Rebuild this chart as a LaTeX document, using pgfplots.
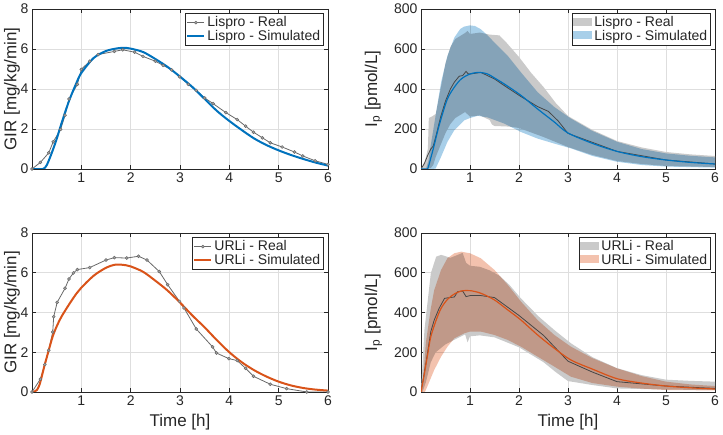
\documentclass[border=0pt]{standalone}
\usepackage{fontspec}
\setmainfont{Liberation Sans}
\usepackage{pgfplots}
\pgfplotsset{compat=1.18}
\definecolor{mblue}{RGB}{0,114,189}
\definecolor{morange}{RGB}{217,83,25}
\definecolor{axc}{RGB}{38,38,38}
\definecolor{realline}{RGB}{105,105,105}
\definecolor{realmean}{RGB}{70,70,70}
\definecolor{bandgray}{RGB}{202,202,202}
\definecolor{bandblue}{RGB}{168,207,233}
\definecolor{bandorange}{RGB}{243,194,174}
\pgfplotsset{
  mystyle/.style={
    scale only axis, width=296pt, height=160pt,
    xmin=0, xmax=6, xtick={1,2,3,4,5,6},
    grid=major, major grid style={draw=black!13, line width=0.5pt},
    axis line style={draw=axc, line width=0.7pt},
    tick style={draw=axc, line width=0.6pt}, tick align=inside, major tick length=4pt,
    tick label style={font=\fontsize{14}{16}\selectfont, text=axc},
    label style={font=\fontsize{17}{19}\selectfont, text=axc},
    xlabel style={at={(axis description cs:0.5,-0.19)}, anchor=center},
    /pgf/number format/assume math mode=true,
    legend style={font=\fontsize{14}{15}\selectfont, draw=axc, line width=0.7pt,
      at={(0.985,0.972)}, anchor=north east, inner sep=1pt, row sep=-2pt, text=axc},
    legend cell align=left,
  },
  girstyle/.style={mystyle, ymin=0, ymax=8, ytick={0,2,4,6,8}, ylabel={GIR [mg/kg/min]},
    ylabel style={at={(axis description cs:-0.068,0.5)}, anchor=center, rotate=0}},
  ipstyle/.style={mystyle, ymin=0, ymax=800, ytick={0,200,400,600,800}, ylabel={I\textsubscript{p} [pmol/L]},
    ylabel style={at={(axis description cs:-0.162,0.5)}, anchor=center, rotate=0}},
  realgir/.style={color=realline, line width=0.8pt, mark=*, mark size=1.5pt,
    mark options={fill=black!35, draw=realline, line width=0.5pt}},
  bandstyle/.style={draw=none, area legend,
    legend image code/.code={\fill[##1, draw=none] (0pt,-3pt) rectangle (19pt,5pt);}},
}
\begin{document}
\begin{tikzpicture}
\path[use as bounding box] (0,0) rectangle (723pt,435pt);

% ---------- Top-left: GIR Lispro ----------
\begin{axis}[girstyle, at={(32pt,266pt)}, anchor=south west]
\addplot[realgir] coordinates {
(0,0)(0.17,0.33)(0.34,0.81)(0.43,1.36)(0.58,1.98)(0.67,2.69)(0.75,3.5)(0.92,4.23)(1.0,4.98)(1.17,5.39)(1.34,5.72)(1.67,5.88)(1.84,5.96)(2.08,5.84)(2.25,5.63)(2.5,5.39)(2.66,5.18)(2.83,4.96)(2.99,4.61)(3.17,4.23)(3.33,3.93)(3.5,3.55)(3.67,3.27)(3.93,2.82)(4.16,2.47)(4.33,2.14)(4.49,1.84)(4.67,1.56)(4.83,1.31)(5.07,1.10)(5.32,0.85)(5.49,0.65)(5.74,0.41)(6,0.23)};
\addlegendentry{Lispro - Real}
\addplot[color=mblue, line width=2pt, smooth] coordinates {
(0,0)(0.22,0)(0.3,0.2)(0.4,0.8)(0.5,1.5)(0.6,2.3)(0.75,3.4)(0.9,4.3)(1.0,4.8)(1.25,5.55)(1.5,5.9)(1.75,6.04)(1.9,6.06)(2.0,6.02)(2.25,5.85)(2.5,5.5)(2.75,5.1)(3.0,4.62)(3.25,4.1)(3.5,3.5)(3.75,2.9)(4.0,2.4)(4.25,1.95)(4.5,1.53)(4.75,1.2)(5.0,0.93)(5.25,0.7)(5.5,0.5)(5.75,0.32)(6.0,0.17)};
\addlegendentry{Lispro - Simulated}
\end{axis}

% ---------- Top-right: Ip Lispro ----------
\begin{axis}[ipstyle, at={(421pt,266pt)}, anchor=south west, width=294pt]
\addplot[fill=bandgray, bandstyle] coordinates {
(0,0)(0.08,40)(0.14,100)(0.16,255)(0.22,262)(0.3,275)(0.4,400)(0.5,530)(0.6,610)(0.7,650)(0.8,665)(0.9,680)(0.95,690)(1.0,675)(1.2,682)(1.4,672)(1.6,668)(1.75,630)(2.0,560)(2.25,480)(2.5,410)(2.75,330)(3.0,265)(3.5,195)(4,140)(4.5,108)(5,85)(5.5,73)(6,65)
(6,10)(5,15)(4.5,25)(4,40)(3.5,70)(3,110)(2.5,160)(2.0,205)(1.8,212)(1.5,215)(1.45,222)(1.4,245)(1.2,268)(1.0,262)(0.9,285)(0.8,270)(0.7,255)(0.6,225)(0.5,180)(0.4,120)(0.3,60)(0.25,20)(0.2,5)(0.1,0)};
\addlegendentry{Lispro - Real}
\addplot[fill=bandblue, bandstyle, blend mode=multiply] coordinates {
(0.1,0)(0.15,40)(0.2,120)(0.3,270)(0.41,434)(0.54,566)(0.68,657)(0.8,700)(0.88,712)(1.0,718)(1.1,715)(1.22,699)(1.35,670)(1.5,632)(1.77,566)(2.04,483)(2.38,384)(2.72,310)(3.06,252)(3.5,190)(4,136)(4.5,100)(5,78)(5.5,66)(6,58)
(6,7)(5,12)(4.5,20)(4,36)(3.5,65)(3.06,103)(2.72,127)(2.38,152)(2.04,185)(1.7,227)(1.36,258)(1.16,266)(1.0,255)(0.88,243)(0.68,194)(0.54,136)(0.41,61)(0.3,3)(0.25,0)};
\addlegendentry{Lispro - Simulated}
\addplot[color=realmean, line width=0.8pt, forget plot] coordinates {
(0,0)(0.07,28)(0.14,70)(0.2,100)(0.25,115)(0.3,160)(0.4,260)(0.5,340)(0.6,400)(0.68,434)(0.78,464)(0.85,467)(0.92,488)(0.96,476)(1.0,475)(1.09,478)(1.22,483)(1.5,450)(1.7,417)(2.04,362)(2.38,312)(2.6,288)(2.8,240)(3.0,178)(4,88)(5,45)(6,25)};
\addplot[color=mblue, line width=1.2pt, smooth, forget plot] coordinates {
(0,0)(0.1,0)(0.14,3)(0.2,55)(0.27,120)(0.34,190)(0.41,252)(0.54,351)(0.68,409)(0.82,450)(1.0,475)(1.19,483)(1.36,475)(1.5,455)(1.7,425)(2.04,368)(2.38,300)(2.72,235)(3.0,180)(3.5,128)(4,88)(4.5,62)(5,45)(5.5,33)(6,25)};
\end{axis}

% ---------- Bottom-left: GIR URLi ----------
\begin{axis}[girstyle, at={(32pt,43pt)}, anchor=south west, height=159pt, xlabel={Time [h]}]
\addplot[realgir] coordinates {
(0,0)(0.17,0.65)(0.26,1.38)(0.34,2.1)(0.42,3.02)(0.44,3.79)(0.51,4.51)(0.67,5.22)(0.75,5.69)(0.84,5.99)(0.92,6.16)(1.17,6.26)(1.5,6.64)(1.67,6.76)(1.92,6.74)(2.16,6.83)(2.33,6.64)(2.58,6.06)(2.75,5.4)(2.99,4.56)(3.08,4.23)(3.33,3.17)(3.66,2.27)(3.74,1.96)(3.99,1.68)(4.16,1.58)(4.33,1.19)(4.49,0.79)(4.83,0.39)(5.16,0.17)(5.57,0.0)(6,0)};
\addlegendentry{URLi - Real}
\addplot[color=morange, line width=2pt, smooth] coordinates {
(0,0)(0.05,0.02)(0.1,0.1)(0.15,0.35)(0.2,0.8)(0.25,1.3)(0.3,1.75)(0.35,2.2)(0.42,2.8)(0.5,3.3)(0.6,3.8)(0.75,4.4)(0.9,4.95)(1.0,5.25)(1.25,5.85)(1.5,6.25)(1.7,6.41)(1.9,6.38)(2.0,6.32)(2.25,6.05)(2.5,5.6)(2.75,5.1)(3.0,4.5)(3.25,3.85)(3.5,3.25)(3.75,2.6)(4.0,2.0)(4.25,1.5)(4.5,1.1)(4.75,0.78)(5.0,0.52)(5.25,0.33)(5.5,0.2)(5.75,0.12)(6.0,0.07)};
\addlegendentry{URLi - Simulated}
\end{axis}

% ---------- Bottom-right: Ip URLi ----------
\begin{axis}[ipstyle, at={(421pt,43pt)}, anchor=south west, width=294pt, height=159pt, xlabel={Time [h]}]
\addplot[fill=bandgray, bandstyle] coordinates {
(0,0)(0.07,312)(0.2,597)(0.31,681)(0.41,690)(0.48,685)(0.6,675)(0.75,690)(0.85,700)(0.92,650)(1.0,635)(1.2,630)(1.4,612)(1.6,585)(1.8,540)(2.04,471)(2.4,380)(2.72,312)(3.06,245)(3.5,175)(4,120)(4.5,85)(5,62)(5.5,56)(6,52)
(6,10)(5,12)(4,18)(3.5,35)(3.0,55)(2.75,100)(2.5,150)(2.0,225)(1.5,275)(1.2,285)(1.0,280)(0.95,250)(0.9,290)(0.7,265)(0.5,240)(0.3,200)(0.2,150)(0.1,50)(0.03,0)};
\addlegendentry{URLi - Real}
\addplot[fill=bandorange, bandstyle, blend mode=multiply] coordinates {
(0.02,0)(0.1,250)(0.2,420)(0.27,513)(0.41,614)(0.54,673)(0.68,698)(0.82,706)(1.0,698)(1.22,673)(1.5,614)(1.77,539)(2.04,455)(2.38,362)(2.72,287)(3.06,228)(3.5,170)(4,119)(4.5,80)(5,52)(5.5,38)(6,30)
(6,8)(5,10)(4.5,17)(4,27)(3.5,45)(3.06,77)(2.72,128)(2.38,178)(2.04,228)(1.77,262)(1.5,287)(1.22,304)(1.0,304)(0.88,295)(0.68,270)(0.54,228)(0.41,178)(0.27,111)(0.15,40)(0.08,0)};
\addlegendentry{URLi - Simulated}
\addplot[color=realmean, line width=0.8pt, forget plot] coordinates {
(0,0)(0.1,144)(0.2,304)(0.27,362)(0.37,421)(0.48,471)(0.58,475)(0.68,478)(0.75,505)(0.85,508)(0.92,480)(1.0,485)(1.2,486)(1.5,475)(2.0,385)(2.5,285)(3.0,155)(3.5,100)(4,52)(5,30)(6,18)};
\addplot[color=morange, line width=1.2pt, smooth, forget plot] coordinates {
(0,0)(0.07,94)(0.14,195)(0.2,278)(0.31,362)(0.41,421)(0.54,466)(0.68,493)(0.82,508)(1.0,510)(1.22,497)(1.5,463)(1.77,413)(2.04,362)(2.38,287)(2.72,220)(3.06,161)(3.5,115)(4,67)(4.5,45)(5,30)(5.5,21)(6,15)};
\end{axis}
\end{tikzpicture}
\end{document}
